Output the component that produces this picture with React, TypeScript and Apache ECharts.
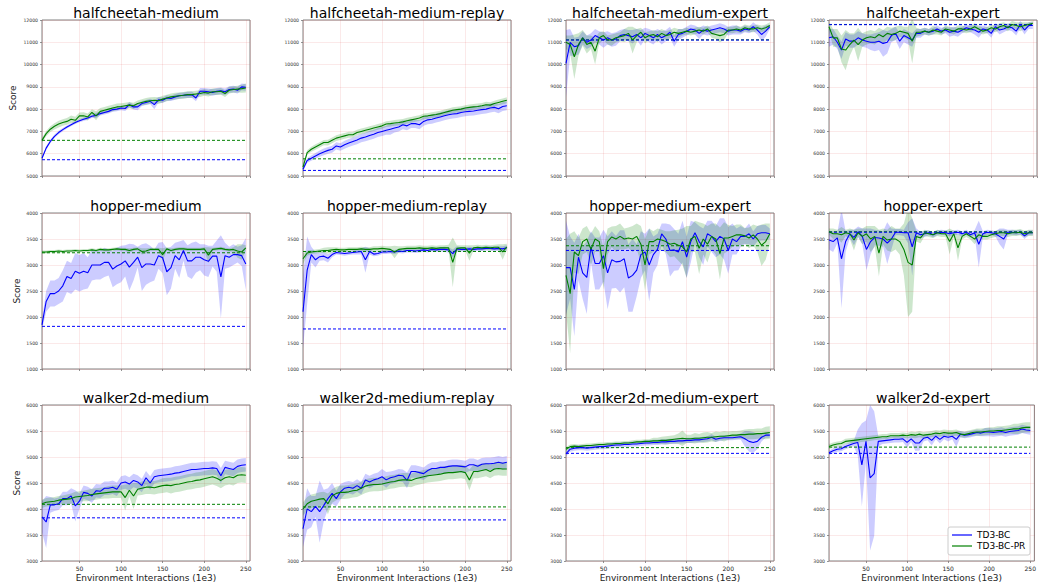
import React, { useEffect, useRef } from "react";
import * as echarts from "echarts";

const X = [5,10,15,20,25,30,35,40,45,50,55,60,65,70,75,80,85,90,95,100,105,110,115,120,125,130,135,140,145,150,155,160,165,170,175,180,185,190,195,200,205,210,215,220,225,230,235,240,245,250];

const TITLES = ["halfcheetah-medium","halfcheetah-medium-replay","halfcheetah-medium-expert","halfcheetah-expert","hopper-medium","hopper-medium-replay","hopper-medium-expert","hopper-expert","walker2d-medium","walker2d-medium-replay","walker2d-medium-expert","walker2d-expert"];

const Y_MIN = [5000, 1000, 3000];
const Y_MAX = [12000, 4000, 6000];
const Y_STEP = [1000, 500, 500];

const LEGEND_NAMES = ["TD3-BC", "TD3-BC-PR"];

// baselines [TD3-BC, TD3-BC-PR]
const BASE_B = [5730, 5250, 11100, 11790, 1820, 1770, 3280, 3630, 3830, 3790, 5070, 5070];
const BASE_G = [6600, 5770, 11110, 11800, 3235, 3260, 3370, 3640, 4090, 4040, 5180, 5190];

const hcM_b = [5800,6250,6550,6780,6950,7080,7200,7300,7400,7480,7550,7600,7680,7720,7800,7850,7900,7980,8000,8050,8030,8200,8100,8100,8250,8300,8350,8200,8420,8400,8500,8480,8550,8600,8620,8640,8650,8500,8800,8800,8780,8750,8800,8820,8780,8880,8900,8850,9000,8980];
const hcM_bs = [60,80,80,80,80,70,70,70,70,70,80,80,80,120,90,90,100,100,100,100,110,110,120,150,110,110,120,200,120,120,120,120,130,130,130,140,140,150,150,150,150,150,150,150,150,150,150,150,150,150];
const hcM_g = [6600,6900,7100,7230,7330,7400,7450,7550,7500,7700,7700,7650,7850,7700,7900,7950,8000,8050,8100,8120,8150,8180,8150,8250,8300,8350,8380,8400,8380,8450,8500,8550,8580,8600,8620,8650,8650,8680,8700,8750,8720,8780,8780,8800,8700,8850,8880,8900,8920,8950];
const hcM_gs = [100,120,130,140,150,150,150,160,160,150,160,160,150,200,150,150,150,150,150,140,140,140,140,140,140,150,150,150,150,150,150,150,150,150,150,150,150,150,150,150,150,150,150,150,150,150,150,150,180,200];

const hcMR_b = [5300,5700,5800,5900,6000,6080,6150,6200,6350,6300,6400,6480,6550,6620,6700,6750,6820,6870,6950,7000,7050,7100,7150,7200,7300,7250,7350,7350,7300,7450,7520,7550,7600,7650,7700,7750,7780,7800,7850,7880,7900,7920,7950,7980,8000,8050,8080,8020,8120,8150];
const hcMR_bs = [100,100,120,130,140,150,150,160,160,170,180,180,180,190,190,190,200,200,200,200,200,250,200,200,200,200,200,200,200,200,200,200,200,200,200,200,200,200,200,200,200,200,200,200,200,200,200,200,200,200];
const hcMR_g = [5400,6050,6200,6300,6400,6500,6500,6600,6700,6750,6800,6850,6850,6950,7000,7050,7100,7150,7200,7250,7330,7350,7380,7400,7430,7480,7520,7560,7600,7680,7700,7730,7760,7800,7850,7900,7950,7980,8000,8050,8080,8100,8120,8150,8200,8180,8250,8300,8350,8400];
const hcMR_gs = [100,100,110,120,120,120,130,130,130,130,130,130,130,130,130,130,130,130,130,130,130,130,130,130,130,130,130,130,130,130,130,130,130,130,130,130,130,130,130,130,130,130,130,130,130,130,130,130,130,130];

const hcME_b = [10050,11000,10800,10850,11200,11000,11100,11300,11200,11100,11200,11100,11150,11300,11350,11300,11250,11350,11200,11400,11300,11200,11350,11200,11300,11450,11050,11350,11400,11500,11600,11550,11400,11550,11500,11550,11600,11650,11600,11500,11550,11550,11500,11600,11550,11700,11550,11350,11500,11700];
const hcME_bs = [1500,600,400,400,300,300,300,300,300,350,300,300,300,250,250,250,300,250,350,250,300,300,250,300,250,250,250,250,200,200,200,200,250,200,200,200,200,200,200,200,200,200,150,150,150,200,200,300,250,100];
const hcME_g = [11000,10900,10350,10900,11200,10900,11000,10600,11200,11300,11100,11100,11200,11250,11300,11400,11100,11300,11450,11200,11300,11350,11250,11400,11300,11350,11450,11400,11450,11500,11450,11500,11550,11500,11600,11400,11350,11300,11350,11550,11550,11600,11550,11650,11600,11600,11650,11600,11650,11750];
const hcME_gs = [300,400,1000,500,350,400,300,600,250,200,200,250,200,200,300,300,600,300,200,250,200,200,250,200,200,200,200,200,150,150,150,150,150,150,150,200,200,300,250,150,150,150,150,150,150,150,150,150,150,150];

const hcE_b = [11200,11250,11000,10650,11150,11050,11050,11200,11100,11050,11000,11000,11050,10950,11000,11300,11400,11050,11300,11200,11100,11400,11400,11500,11450,11500,11600,11500,11550,11450,11500,11450,11550,11650,11600,11550,11450,11600,11550,11400,11700,11550,11600,11700,11650,11500,11800,11550,11750,11750];
const hcE_bs = [400,350,300,400,300,300,300,300,300,300,350,400,400,600,500,300,300,350,300,300,300,200,200,150,150,150,150,150,150,200,200,200,150,150,150,200,250,150,150,200,150,200,150,150,150,200,150,200,150,150];
const hcE_g = [11700,11200,11200,10700,10650,10900,11100,10900,11100,11200,11250,11200,11350,11250,11400,11350,11400,11500,11450,11400,11050,11450,11450,11500,11450,11550,11500,11450,11600,11550,11500,11600,11600,11550,11600,11700,11600,11500,11550,11650,11600,11700,11750,11650,11800,11750,11700,11750,11800,11850];
const hcE_gs = [200,400,400,600,900,500,300,750,300,300,300,300,300,300,300,300,300,250,250,300,1000,200,150,150,150,200,150,150,150,150,150,150,150,150,150,150,150,150,150,150,150,150,150,150,150,150,200,150,100,100];

const hM_b = [1850,2300,2450,2450,2500,2600,2780,2740,2880,2840,2880,2850,3000,3000,3000,3050,3050,2920,2980,3020,3080,2960,3050,3150,2950,3020,3020,3000,3180,3140,2870,2950,3180,3100,3280,3080,3080,3150,3150,3100,3070,3170,3170,2770,3180,3150,3200,3200,3180,3020];
const hM_bs = [100,200,250,250,250,300,300,300,350,350,350,300,300,280,280,280,250,350,350,350,300,450,350,200,450,400,350,300,250,300,450,400,250,350,200,300,350,300,250,300,300,200,300,800,250,200,200,150,200,500];
const hM_g = [3250,3250,3260,3260,3270,3260,3270,3270,3280,3270,3280,3280,3290,3280,3300,3290,3290,3300,3310,3300,3300,3280,3300,3310,3260,3270,3300,3300,3300,3200,3310,3280,3300,3310,3310,3300,3300,3300,3300,3310,3190,3300,3310,3320,3300,3290,3300,3270,3250,3330];
const hM_gs = [30,30,30,30,30,30,30,30,30,30,30,30,30,30,30,30,30,30,30,30,30,40,30,30,60,50,30,30,30,120,30,40,30,30,30,30,30,30,30,30,150,30,30,30,30,30,40,130,150,50];

const hMR_b = [2100,2900,3200,3100,3160,3170,3130,3200,3240,3230,3220,3230,3240,3250,3260,3100,3260,3210,3220,3250,3250,3260,3250,3270,3260,3280,3280,3270,3280,3290,3280,3300,3290,3300,3300,3290,3220,3310,3300,3300,3310,3300,3310,3310,3320,3320,3310,3320,3310,3330];
const hMR_bs = [700,650,150,150,80,80,80,50,40,40,40,40,40,50,60,250,60,40,40,40,40,40,40,40,40,40,40,40,40,40,40,40,40,40,50,50,80,50,40,40,40,40,40,40,40,40,40,40,50,50];
const hMR_g = [3120,3230,3250,3260,3270,3280,3280,3290,3300,3290,3290,3300,3300,3300,3310,3300,3300,3310,3310,3320,3310,3300,3250,3300,3310,3320,3320,3320,3330,3320,3320,3330,3320,3330,3330,3330,3050,3320,3330,3330,3230,3330,3340,3330,3340,3330,3340,3340,3250,3350];
const hMR_gs = [100,50,40,40,40,50,60,50,40,40,40,40,40,40,40,40,40,50,50,50,50,60,120,60,50,50,50,50,50,50,50,50,50,50,50,60,480,60,50,50,150,50,50,50,50,50,50,60,150,60];

const hME_b = [2950,2950,2530,3150,2850,2760,3350,3030,3030,3180,2850,3100,3060,3070,3120,2750,2800,2900,3200,3250,3000,3200,3300,3600,3500,3280,3290,3250,3450,3150,3450,3620,3450,3350,3600,3550,3450,3550,3500,3280,3500,3450,3550,3550,3600,3500,3600,3620,3620,3600];
const hME_bs = [900,600,900,450,500,700,300,500,500,500,700,550,500,600,550,650,700,500,450,350,700,350,300,200,300,500,400,350,400,400,400,200,300,350,250,300,300,350,400,450,300,250,200,150,200,150,150,150,150,100];
const hME_g = [2800,2450,3250,3180,3450,3500,3300,3500,3450,2930,3450,3540,3500,3550,3500,3520,3500,3550,3400,3000,3450,3450,3500,3480,3450,3400,3420,3380,3350,3250,3500,3550,3320,3500,3400,3550,3500,3220,3520,3520,3550,3580,3580,3560,3520,3580,3500,3380,3450,3600];
const hME_gs = [700,1150,400,350,250,250,300,250,200,400,250,200,250,250,200,200,250,250,350,500,250,200,200,200,200,250,250,300,350,500,250,300,500,300,350,250,300,500,300,250,200,200,200,150,200,200,250,400,350,200];

const hE_b = [3480,3450,3520,3120,3450,3600,3530,3640,3550,3300,3450,3530,3520,3500,3420,3500,3630,3630,3620,3620,3350,3620,3580,3600,3620,3580,3620,3630,3620,3600,3620,3630,3600,3630,3580,3620,3400,3600,3630,3620,3600,3550,3500,3630,3630,3620,3630,3560,3620,3620];
const hE_bs = [180,200,100,950,200,80,150,100,150,400,250,150,150,150,400,200,60,60,60,200,550,80,60,60,50,50,50,50,50,50,50,50,50,50,50,50,450,50,50,50,50,150,200,50,50,50,50,60,50,50];
const hE_g = [3640,3600,3600,3580,3620,3600,3480,3620,3550,3600,3500,3550,3230,3550,3480,3500,3500,3450,3300,3050,3000,3550,3520,3620,3600,3580,3620,3600,3600,3450,3600,3330,3550,3600,3550,3500,3580,3550,3550,3580,3600,3620,3620,3600,3620,3620,3630,3600,3620,3620];
const hE_gs = [60,100,80,150,60,100,200,80,150,150,250,200,450,150,200,250,200,250,500,1050,900,100,100,60,60,60,60,60,60,250,60,250,60,60,60,100,60,60,60,60,60,60,60,60,60,60,60,60,60,60];

const wM_b = [3850,3750,4080,4080,4100,4200,4200,4250,4060,4150,4320,4300,4250,4350,4340,4400,4400,4420,4380,4500,4520,4480,4550,4520,4450,4600,4500,4620,4640,4650,4660,4670,4690,4700,4720,4740,4760,4760,4770,4780,4780,4790,4780,4640,4800,4780,4760,4820,4840,4850];
const wM_bs = [300,500,150,120,120,130,130,150,300,150,130,130,130,130,130,130,130,130,130,130,130,130,130,130,130,130,130,130,130,130,130,130,130,130,130,130,130,130,130,130,130,130,130,150,130,130,130,130,130,130];
const wM_g = [4100,4130,4140,4150,4170,4180,4190,4200,4230,4240,4250,4260,4280,4290,4300,4310,4320,4330,4330,4330,4220,4360,4250,4380,4400,4420,4420,4410,4430,4450,4460,4450,4470,4480,4500,4520,4530,4550,4560,4580,4600,4620,4590,4550,4600,4620,4600,4650,4660,4650];
const wM_gs = [80,80,80,80,80,80,90,100,100,100,100,110,110,110,110,110,120,120,120,120,250,120,250,120,130,130,130,130,130,140,140,150,150,150,150,150,150,150,150,150,150,150,150,150,150,150,150,150,150,150];

const wMR_b = [3620,4000,3950,4050,3950,4070,4200,4300,4200,4330,4400,4420,4400,4450,4400,4560,4520,4560,4580,4620,4560,4600,4620,4650,4640,4550,4720,4720,4700,4680,4740,4780,4780,4800,4800,4820,4830,4830,4820,4810,4850,4850,4820,4860,4870,4870,4880,4900,4880,4900];
const wMR_bs = [350,400,300,200,600,300,200,200,150,150,120,120,120,120,120,120,120,120,120,150,150,120,120,120,120,150,120,120,120,120,120,120,120,120,120,120,120,120,120,120,120,120,120,120,120,120,120,120,120,120];
const wMR_g = [4000,4100,4150,4170,4190,4200,4100,4250,4300,4320,4320,4330,4350,4360,4400,4440,4460,4470,4470,4480,4500,4520,4530,4550,4560,4560,4550,4580,4600,4620,4640,4650,4660,4670,4690,4700,4700,4710,4720,4700,4560,4720,4720,4740,4760,4720,4770,4780,4770,4770];
const wMR_gs = [130,130,130,130,130,130,200,130,130,130,130,130,130,130,130,130,130,130,130,130,130,130,130,130,130,130,130,130,130,130,130,130,130,130,130,130,130,130,130,130,200,130,130,130,130,130,130,130,130,130];

const wME_b = [5060,5150,5170,5180,5180,5170,5180,5190,5200,5200,5210,5220,5230,5230,5240,5240,5250,5250,5260,5270,5270,5280,5280,5290,5290,5300,5300,5310,5310,5320,5320,5330,5330,5340,5350,5380,5340,5360,5370,5370,5370,5380,5390,5350,5300,5280,5300,5380,5420,5420];
const wME_bs = [50,50,50,50,50,50,50,50,50,50,50,50,50,50,50,50,50,50,50,50,50,50,50,50,50,50,50,50,50,50,50,50,50,50,50,60,50,50,50,50,50,50,60,150,200,200,150,80,50,50];
const wME_g = [5150,5200,5210,5200,5210,5220,5220,5230,5240,5240,5250,5250,5260,5260,5270,5270,5280,5290,5290,5300,5300,5310,5310,5320,5320,5330,5340,5350,5360,5350,5350,5360,5360,5370,5380,5380,5390,5400,5400,5410,5420,5420,5430,5430,5440,5440,5450,5450,5460,5470];
const wME_gs = [40,40,40,40,40,40,40,40,40,40,40,40,40,40,40,40,40,40,40,40,40,60,60,70,80,80,80,100,150,80,80,100,80,100,100,80,100,80,100,80,80,80,80,100,100,100,100,100,120,120];

const wE_b = [5080,5120,5150,5160,5200,5230,5260,5280,4850,5300,4600,4680,5300,5310,5320,5330,5340,5340,5350,5280,5350,5270,5270,5360,5380,5320,5400,5340,5400,5380,5400,5340,5440,5420,5430,5450,5470,5460,5480,5480,5470,5480,5490,5470,5490,5500,5510,5540,5520,5510];
const wE_bs = [40,50,50,50,50,50,50,250,800,400,1400,1200,100,60,60,60,60,60,60,100,60,150,150,60,60,100,60,80,60,80,60,150,60,60,60,60,60,60,80,80,80,80,80,80,80,80,80,80,80,80];
const wE_g = [5200,5230,5250,5260,5300,5310,5320,5330,5340,5350,5360,5370,5380,5390,5390,5410,5410,5410,5420,5410,5430,5420,5440,5420,5430,5440,5460,5450,5470,5460,5460,5470,5440,5430,5450,5470,5480,5480,5490,5500,5500,5510,5510,5520,5530,5540,5540,5560,5570,5570];
const wE_gs = [50,50,50,50,50,50,50,50,50,50,50,50,50,50,50,50,50,50,50,50,60,60,60,60,60,60,60,60,60,60,60,60,60,60,60,60,70,70,70,70,70,80,80,80,80,100,100,100,100,100];

const MEAN_B = [hcM_b, hcMR_b, hcME_b, hcE_b, hM_b, hMR_b, hME_b, hE_b, wM_b, wMR_b, wME_b, wE_b];
const STD_B = [hcM_bs, hcMR_bs, hcME_bs, hcE_bs, hM_bs, hMR_bs, hME_bs, hE_bs, wM_bs, wMR_bs, wME_bs, wE_bs];
const MEAN_G = [hcM_g, hcMR_g, hcME_g, hcE_g, hM_g, hMR_g, hME_g, hE_g, wM_g, wMR_g, wME_g, wE_g];
const STD_G = [hcM_gs, hcMR_gs, hcME_gs, hcE_gs, hM_gs, hMR_gs, hME_gs, hE_gs, wM_gs, wMR_gs, wME_gs, wE_gs];

const COL_LEFT = [42, 303, 566, 829];
const ROW_TOP = [20, 213, 405];
const PW = 208;
const PH = 156;
const FONT = "DejaVu Sans";
const BLUE = "#0000ff";
const GREEN = "#008000";
const GRID_LINE = "rgba(220,80,80,0.16)";

function bandRender(fill: string) {
  return (params: any, api: any) => {
    if (params.dataIndex !== 0) return null;
    const n = params.dataInsideLength;
    const upper: number[][] = [];
    const lower: number[][] = [];
    for (let j = 0; j < n; j++) {
      const x = api.value(0, j);
      upper.push(api.coord([x, api.value(2, j)]));
      lower.push(api.coord([x, api.value(1, j)]));
    }
    const pts = upper.concat(lower.reverse());
    const cs = params.coordSys;
    return {
      type: "polygon",
      silent: true,
      shape: { points: pts },
      style: { fill, stroke: "none" },
      clipPath: { type: "rect", shape: { x: cs.x, y: cs.y, width: cs.width, height: cs.height } },
    };
  };
}

function buildOption() {
  const grid: any[] = [];
  const xAxis: any[] = [];
  const yAxis: any[] = [];
  const series: any[] = [];
  const elements: any[] = [];

  TITLES.forEach((title, i) => {
    const row = Math.floor(i / 4);
    const col = i % 4;
    const left = COL_LEFT[col];
    const top = ROW_TOP[row];
    grid.push({ left, top, width: PW, height: PH, show: true, borderColor: "#808080", borderWidth: 1, backgroundColor: "transparent", containLabel: false });
    xAxis.push({
      gridIndex: i, type: "value", min: 5, max: 255, splitNumber: 5,
      axisLine: { show: false },
      axisTick: { show: true, length: 2, lineStyle: { color: "#777", width: 0.8 } },
      axisLabel: { show: row === 2, fontSize: 6, color: "#222", margin: 4, fontFamily: FONT, showMinLabel: false, showMaxLabel: false, formatter: (v: number) => String(v) },
      splitLine: { show: true, lineStyle: { color: GRID_LINE, width: 0.8 } },
      name: row === 2 ? "Environment Interactions (1e3)" : "",
      nameLocation: "middle", nameGap: 12,
      nameTextStyle: { fontSize: 9, color: "#222", fontFamily: FONT },
    });
    yAxis.push({
      gridIndex: i, type: "value", min: Y_MIN[row], max: Y_MAX[row], interval: Y_STEP[row],
      axisLine: { show: false },
      axisTick: { show: true, length: 2, lineStyle: { color: "#777", width: 0.8 } },
      axisLabel: { fontSize: 4.6, color: "#333", margin: 4, fontFamily: FONT, formatter: (v: number) => String(v) },
      splitLine: { show: true, lineStyle: { color: GRID_LINE, width: 0.8 } },
      name: col === 0 ? "Score" : "",
      nameLocation: "middle", nameGap: row === 0 ? 25 : 21,
      nameTextStyle: { fontSize: 9, color: "#222", fontFamily: FONT },
    });

    const mb = MEAN_B[i], sb = STD_B[i], mg = MEAN_G[i], sg = STD_G[i];
    const common = { xAxisIndex: i, yAxisIndex: i, silent: true };
    series.push({ ...common, type: "custom", name: "b-band", renderItem: bandRender("rgba(0,0,255,0.2)"), encode: { x: 0, y: [1, 2] }, data: X.map((x, k) => [x, mb[k] - sb[k], mb[k] + sb[k]]) });
    series.push({ ...common, type: "custom", name: "g-band", renderItem: bandRender("rgba(0,128,0,0.2)"), encode: { x: 0, y: [1, 2] }, data: X.map((x, k) => [x, mg[k] - sg[k], mg[k] + sg[k]]) });
    series.push({ ...common, type: "line", symbol: "none", name: "g-base", lineStyle: { color: GREEN, width: 1, type: [3, 2] }, data: [[X[0], BASE_G[i]], [X[X.length - 1], BASE_G[i]]] });
    series.push({ ...common, type: "line", symbol: "none", name: "b-base", lineStyle: { color: BLUE, width: 1, type: [3, 2] }, data: [[X[0], BASE_B[i]], [X[X.length - 1], BASE_B[i]]] });
    series.push({ ...common, type: "line", symbol: "none", name: LEGEND_NAMES[0], lineStyle: { color: BLUE, width: 1.1 }, data: X.map((x, k) => [x, mb[k]]) });
    series.push({ ...common, type: "line", symbol: "none", name: LEGEND_NAMES[1], lineStyle: { color: GREEN, width: 1.1 }, data: X.map((x, k) => [x, mg[k]]) });

    elements.push({
      type: "text", x: left + PW / 2, y: top - 7, silent: true,
      style: { text: title, fontSize: 14, fontFamily: FONT, fill: "#000", align: "center", verticalAlign: "middle" },
    });
  });

  // legend drawn in the last panel (bottom-right)
  const lx = 948, ly = 527;
  elements.push({ type: "rect", silent: true, shape: { x: lx, y: ly, width: 82, height: 28, r: 2 }, style: { fill: "#fff", stroke: "#cccccc", lineWidth: 1 }, z: 100 });
  [BLUE, GREEN].forEach((c, k) => {
    const cy = ly + 8 + k * 11;
    elements.push({ type: "line", silent: true, shape: { x1: lx + 4, y1: cy, x2: lx + 24, y2: cy }, style: { stroke: c, lineWidth: 1.2 }, z: 101 });
    elements.push({ type: "text", silent: true, x: lx + 29, y: cy, style: { text: LEGEND_NAMES[k], fontSize: 9, fontFamily: FONT, fill: "#000", align: "left", verticalAlign: "middle" }, z: 101 });
  });

  return {
    animation: false,
    backgroundColor: "#ffffff",
    textStyle: { fontFamily: FONT },
    grid, xAxis, yAxis, series,
    graphic: { elements },
  };
}

export default function App() {
  const ref = useRef<HTMLDivElement>(null);
  useEffect(() => {
    if (!ref.current) return;
    const chart = echarts.init(ref.current, undefined, { renderer: "svg" });
    chart.setOption(buildOption() as any);
    return () => chart.dispose();
  }, []);
  return <div ref={ref} style={{ position: "absolute", left: 0, top: 0, width: 1039, height: 586, background: "#fff" }} />;
}
